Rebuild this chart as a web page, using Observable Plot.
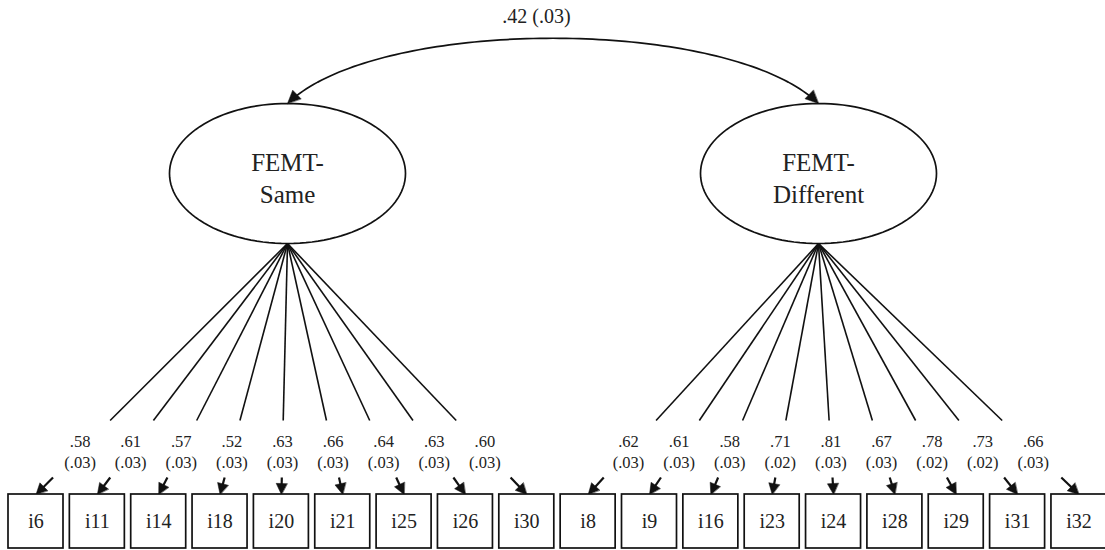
<!DOCTYPE html>
<html><head><meta charset="utf-8">
<script src="https://cdn.jsdelivr.net/npm/d3@7"></script>
<script src="https://cdn.jsdelivr.net/npm/@observablehq/plot@0.6"></script>
<style>body{margin:0;background:#fff} svg text{font-family:"Liberation Serif","DejaVu Serif",serif !important}</style>
</head><body><div id="chart"></div>
<script>
// ---- data ----
const factorNames = ["FEMT-\nSame", "FEMT-\nDifferent"];
const itemNames = ["i6","i11","i14","i18","i20","i21","i25","i26","i30","i8","i9","i16","i23","i24","i28","i29","i31","i32"];
const itemFactor = [0,0,0,0,0,0,0,0,0,1,1,1,1,1,1,1,1,1];
const loadings = [0.58,0.61,0.57,0.52,0.63,0.66,0.64,0.63,0.60,0.62,0.61,0.58,0.71,0.81,0.67,0.78,0.73,0.66];
const loadingSE = [0.03,0.03,0.03,0.03,0.03,0.03,0.03,0.03,0.03,0.03,0.03,0.03,0.02,0.03,0.03,0.02,0.02,0.03];
const factorCorr = 0.42;
const factorCorrSE = 0.03;

// ---- layout ----
const W = 1105, H = 550;
const boxW = 55, boxH = 54, boxTop = 494, boxStep = 61.35, boxX0 = 35.5;
const factorCX = [287, 818], factorCY = 173, rx = 118, ry = 70;
const lineEndY = 420, arrowStartY = 477, labelY = 450;
const font = '"Liberation Serif", "DejaVu Serif", serif';
const fmt = v => v.toFixed(2).replace(/^0/, "");
const headLen = 11, headHalf = 5.5;

const items = itemNames.map((name, i) => {
  const bx = boxX0 + boxStep * i;
  const fx = factorCX[itemFactor[i]], fy = factorCY + ry;
  const at = y => fx + (bx - fx) * (y - fy) / (boxTop - fy);
  const dx = bx - fx, dy = boxTop - fy, len = Math.hypot(dx, dy);
  const ux = dx / len, uy = dy / len;
  return {
    name, bx, fx, fy, ux, uy,
    lx: at(lineEndY),
    ax: at(arrowStartY),
    tx: at(labelY),
    shaftX: bx - ux * (headLen - 1), shaftY: boxTop - uy * (headLen - 1),
    label: fmt(loadings[i]) + "\n(" + fmt(loadingSE[i]) + ")"
  };
});

// arrowhead polygons (tip + two barbs) from tip point and unit direction
const headPoly = (tipX, tipY, ux, uy, id, L, Hh) => {
  const bx = tipX - ux * L, by = tipY - uy * L;
  return [
    {id, x: tipX, y: tipY},
    {id, x: bx - uy * Hh, y: by + ux * Hh},
    {id, x: bx + uy * Hh, y: by - ux * Hh}
  ];
};
const itemHeads = items.flatMap((d, i) => headPoly(d.bx, boxTop, d.ux, d.uy, "h" + i, headLen, headHalf));

// ellipses
const ellipses = factorCX.flatMap((cx, k) =>
  d3.range(0, 361, 3).map(a => ({k, x: cx + rx * Math.cos(a * Math.PI / 180), y: factorCY + ry * Math.sin(a * Math.PI / 180)})));

// covariance curve (cubic bezier between ellipse tops)
const P0 = [factorCX[0], factorCY - ry], P3 = [factorCX[1], factorCY - ry];
const bend = 90, peakCtrl = 16;
const P1 = [P0[0] + bend, peakCtrl], P2 = [P3[0] - bend, peakCtrl];
const bez = t => {
  const u = 1 - t;
  return [0, 1].map(j => u*u*u*P0[j] + 3*u*u*t*P1[j] + 3*u*t*t*P2[j] + t*t*t*P3[j]);
};
const curve = d3.range(0.03, 0.971, 0.01).map(t => { const p = bez(t); return {x: p[0], y: p[1]}; });
const endHeads = [
  {tip: P0, dir: [P0[0] - P1[0], P0[1] - P1[1]], id: "c0"},
  {tip: P3, dir: [P3[0] - P2[0], P3[1] - P2[1]], id: "c1"}
].flatMap(({tip, dir, id}) => {
  const l = Math.hypot(dir[0], dir[1]);
  return headPoly(tip[0], tip[1], dir[0] / l, dir[1] / l, id, 13, 6);
});

const chart = Plot.plot({
  width: W, height: H,
  margin: 0,
  x: {domain: [0, W], range: [0, W], axis: null},
  y: {domain: [0, H], range: [0, H], axis: null},
  style: {background: "#fff", fontFamily: font},
  marks: [
    // covariance
    Plot.line(curve, {x: "x", y: "y", stroke: "#111", strokeWidth: 1.7}),
    Plot.line(endHeads, {x: "x", y: "y", z: "id", fill: "#111", stroke: "#111", strokeWidth: 0.5, curve: "linear-closed"}),
    Plot.text([`${fmt(factorCorr)} (${fmt(factorCorrSE)})`], {x: 536, y: 16, text: d => d, fontSize: 20, fontFamily: font, fill: "#222"}),
    // ellipses
    Plot.line(ellipses, {x: "x", y: "y", z: "k", stroke: "#111", strokeWidth: 1.7, fill: "none"}),
    Plot.text(factorNames, {x: (d, i) => factorCX[i], y: factorCY + 3, text: d => d, fontSize: 25, lineHeight: 1.28, fontFamily: font, fill: "#222"}),
    // loading lines
    Plot.link(items, {x1: "fx", y1: "fy", x2: "lx", y2: lineEndY, stroke: "#111", strokeWidth: 1.6}),
    // small arrows to indicators
    Plot.link(items, {x1: "ax", y1: arrowStartY, x2: "shaftX", y2: "shaftY", stroke: "#111", strokeWidth: 2.2}),
    Plot.line(itemHeads, {x: "x", y: "y", z: "id", fill: "#111", stroke: "#111", strokeWidth: 0.5, curve: "linear-closed"}),
    // loading labels
    Plot.text(items, {x: "tx", y: labelY, text: "label", fontSize: 16.5, lineHeight: 1.3, fontFamily: font, fill: "#222"}),
    // indicator boxes
    Plot.rect(items, {x1: d => d.bx - boxW / 2, x2: d => d.bx + boxW / 2, y1: boxTop, y2: boxTop + boxH, fill: "#fff", stroke: "#111", strokeWidth: 1.7}),
    Plot.text(items, {x: "bx", y: boxTop + boxH / 2, text: "name", fontSize: 20, fontFamily: font, fill: "#222"})
  ]
});
document.getElementById("chart").append(chart);
</script>
</body></html>
